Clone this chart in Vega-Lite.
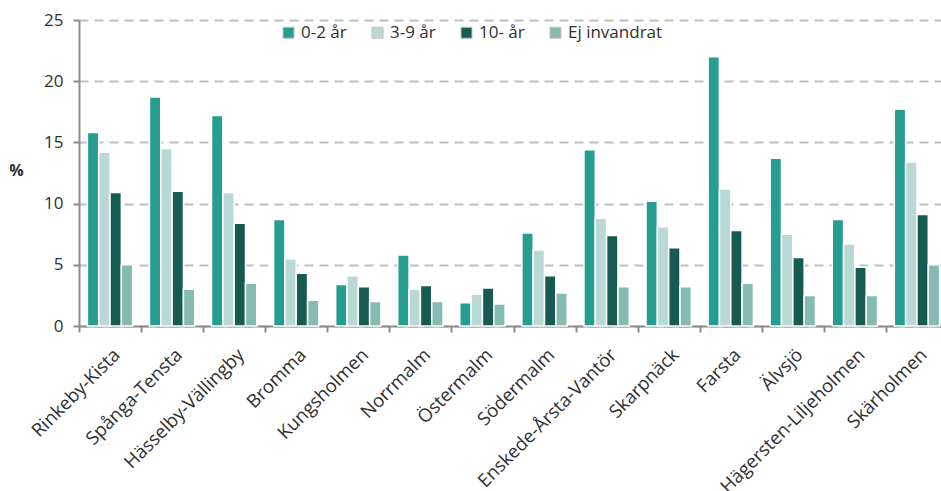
{
  "$schema": "https://vega.github.io/schema/vega-lite/v6.json",
  "autosize": {"type": "none"},
  "width": 862,
  "height": 306,
  "padding": {"left": 79, "top": 20, "right": 0, "bottom": 165},
  "background": "white",
  "config": {"view": {"stroke": null}, "font": "Open Sans"},
  "datasets": {
    "d": [
      {"omrade": "Rinkeby-Kista", "grupp": "0-2 år", "v": 15.8},
      {"omrade": "Rinkeby-Kista", "grupp": "3-9 år", "v": 14.2},
      {"omrade": "Rinkeby-Kista", "grupp": "10- år", "v": 10.9},
      {"omrade": "Rinkeby-Kista", "grupp": "Ej invandrat", "v": 5.0},
      {"omrade": "Spånga-Tensta", "grupp": "0-2 år", "v": 18.7},
      {"omrade": "Spånga-Tensta", "grupp": "3-9 år", "v": 14.5},
      {"omrade": "Spånga-Tensta", "grupp": "10- år", "v": 11.0},
      {"omrade": "Spånga-Tensta", "grupp": "Ej invandrat", "v": 3.0},
      {"omrade": "Hässelby-Vällingby", "grupp": "0-2 år", "v": 17.2},
      {"omrade": "Hässelby-Vällingby", "grupp": "3-9 år", "v": 10.9},
      {"omrade": "Hässelby-Vällingby", "grupp": "10- år", "v": 8.4},
      {"omrade": "Hässelby-Vällingby", "grupp": "Ej invandrat", "v": 3.5},
      {"omrade": "Bromma", "grupp": "0-2 år", "v": 8.7},
      {"omrade": "Bromma", "grupp": "3-9 år", "v": 5.5},
      {"omrade": "Bromma", "grupp": "10- år", "v": 4.3},
      {"omrade": "Bromma", "grupp": "Ej invandrat", "v": 2.1},
      {"omrade": "Kungsholmen", "grupp": "0-2 år", "v": 3.4},
      {"omrade": "Kungsholmen", "grupp": "3-9 år", "v": 4.1},
      {"omrade": "Kungsholmen", "grupp": "10- år", "v": 3.2},
      {"omrade": "Kungsholmen", "grupp": "Ej invandrat", "v": 2.0},
      {"omrade": "Norrmalm", "grupp": "0-2 år", "v": 5.8},
      {"omrade": "Norrmalm", "grupp": "3-9 år", "v": 3.0},
      {"omrade": "Norrmalm", "grupp": "10- år", "v": 3.3},
      {"omrade": "Norrmalm", "grupp": "Ej invandrat", "v": 2.0},
      {"omrade": "Östermalm", "grupp": "0-2 år", "v": 1.9},
      {"omrade": "Östermalm", "grupp": "3-9 år", "v": 2.6},
      {"omrade": "Östermalm", "grupp": "10- år", "v": 3.1},
      {"omrade": "Östermalm", "grupp": "Ej invandrat", "v": 1.8},
      {"omrade": "Södermalm", "grupp": "0-2 år", "v": 7.6},
      {"omrade": "Södermalm", "grupp": "3-9 år", "v": 6.2},
      {"omrade": "Södermalm", "grupp": "10- år", "v": 4.1},
      {"omrade": "Södermalm", "grupp": "Ej invandrat", "v": 2.7},
      {"omrade": "Enskede-Årsta-Vantör", "grupp": "0-2 år", "v": 14.4},
      {"omrade": "Enskede-Årsta-Vantör", "grupp": "3-9 år", "v": 8.8},
      {"omrade": "Enskede-Årsta-Vantör", "grupp": "10- år", "v": 7.4},
      {"omrade": "Enskede-Årsta-Vantör", "grupp": "Ej invandrat", "v": 3.2},
      {"omrade": "Skarpnäck", "grupp": "0-2 år", "v": 10.2},
      {"omrade": "Skarpnäck", "grupp": "3-9 år", "v": 8.1},
      {"omrade": "Skarpnäck", "grupp": "10- år", "v": 6.4},
      {"omrade": "Skarpnäck", "grupp": "Ej invandrat", "v": 3.2},
      {"omrade": "Farsta", "grupp": "0-2 år", "v": 22.0},
      {"omrade": "Farsta", "grupp": "3-9 år", "v": 11.2},
      {"omrade": "Farsta", "grupp": "10- år", "v": 7.8},
      {"omrade": "Farsta", "grupp": "Ej invandrat", "v": 3.5},
      {"omrade": "Älvsjö", "grupp": "0-2 år", "v": 13.7},
      {"omrade": "Älvsjö", "grupp": "3-9 år", "v": 7.5},
      {"omrade": "Älvsjö", "grupp": "10- år", "v": 5.6},
      {"omrade": "Älvsjö", "grupp": "Ej invandrat", "v": 2.5},
      {"omrade": "Hägersten-Liljeholmen", "grupp": "0-2 år", "v": 8.7},
      {"omrade": "Hägersten-Liljeholmen", "grupp": "3-9 år", "v": 6.7},
      {"omrade": "Hägersten-Liljeholmen", "grupp": "10- år", "v": 4.8},
      {"omrade": "Hägersten-Liljeholmen", "grupp": "Ej invandrat", "v": 2.5},
      {"omrade": "Skärholmen", "grupp": "0-2 år", "v": 17.7},
      {"omrade": "Skärholmen", "grupp": "3-9 år", "v": 13.4},
      {"omrade": "Skärholmen", "grupp": "10- år", "v": 9.1},
      {"omrade": "Skärholmen", "grupp": "Ej invandrat", "v": 5.0}
    ]
  },
  "data": {"name": "d"},
  "mark": {"type": "bar", "stroke": "white", "strokeWidth": 1.5},
  "encoding": {
    "x": {
      "field": "omrade",
      "type": "nominal",
      "sort": null,
      "scale": {"range": [0, 869], "paddingInner": 0, "paddingOuter": 0},
      "axis": {
        "title": null,
        "labelAngle": -45,
        "labelFont": "Open Sans",
        "labelFontSize": 18.5,
        "labelColor": "#303030",
        "labelPadding": 13,
        "labelOverlap": false,
        "labelLimit": 400,
        "tickBand": "extent",
        "tickColor": "#8c8c8c",
        "tickWidth": 2,
        "tickSize": 6,
        "domainColor": "#8c8c8c",
        "domainWidth": 2,
        "grid": false
      }
    },
    "xOffset": {
      "field": "grupp",
      "type": "nominal",
      "sort": ["0-2 år", "3-9 år", "10- år", "Ej invandrat"],
      "scale": {"paddingInner": 0, "paddingOuter": 0.74}
    },
    "y": {
      "field": "v",
      "type": "quantitative",
      "scale": {"domain": [0, 25]},
      "axis": {
        "title": "%",
        "titleAngle": 0,
        "titleFont": "Open Sans",
        "titleFontSize": 16,
        "titleFontWeight": "bold",
        "titleColor": "#303030",
        "titleX": -63,
        "titleY": 158,
        "titleAlign": "center",
        "values": [0, 5, 10, 15, 20, 25],
        "labelFont": "Open Sans",
        "labelFontSize": 17,
        "labelColor": "#303030",
        "labelPadding": 10,
        "tickColor": "#8c8c8c",
        "tickWidth": 2,
        "tickSize": 6,
        "domainColor": "#8c8c8c",
        "domainWidth": 2,
        "gridColor": "#c0c0c0",
        "gridWidth": 2,
        "gridDash": [9, 6]
      }
    },
    "color": {
      "field": "grupp",
      "type": "nominal",
      "sort": ["0-2 år", "3-9 år", "10- år", "Ej invandrat"],
      "scale": {
        "domain": ["0-2 år", "3-9 år", "10- år", "Ej invandrat"],
        "range": ["#259e91", "#b8d9d6", "#165a52", "#85bbb3"]
      },
      "legend": {
        "title": null,
        "orient": "none",
        "legendX": 201,
        "legendY": 4,
        "direction": "horizontal",
        "columns": 4,
        "symbolType": "square",
        "symbolSize": 120,
        "symbolStrokeColor": "#c0c0c0",
        "symbolStrokeWidth": 1,
        "symbolOpacity": 1,
        "labelFont": "Open Sans",
        "labelFontSize": 17,
        "labelColor": "#303030",
        "labelOffset": 4,
        "columnPadding": 22
      }
    }
  }
}
